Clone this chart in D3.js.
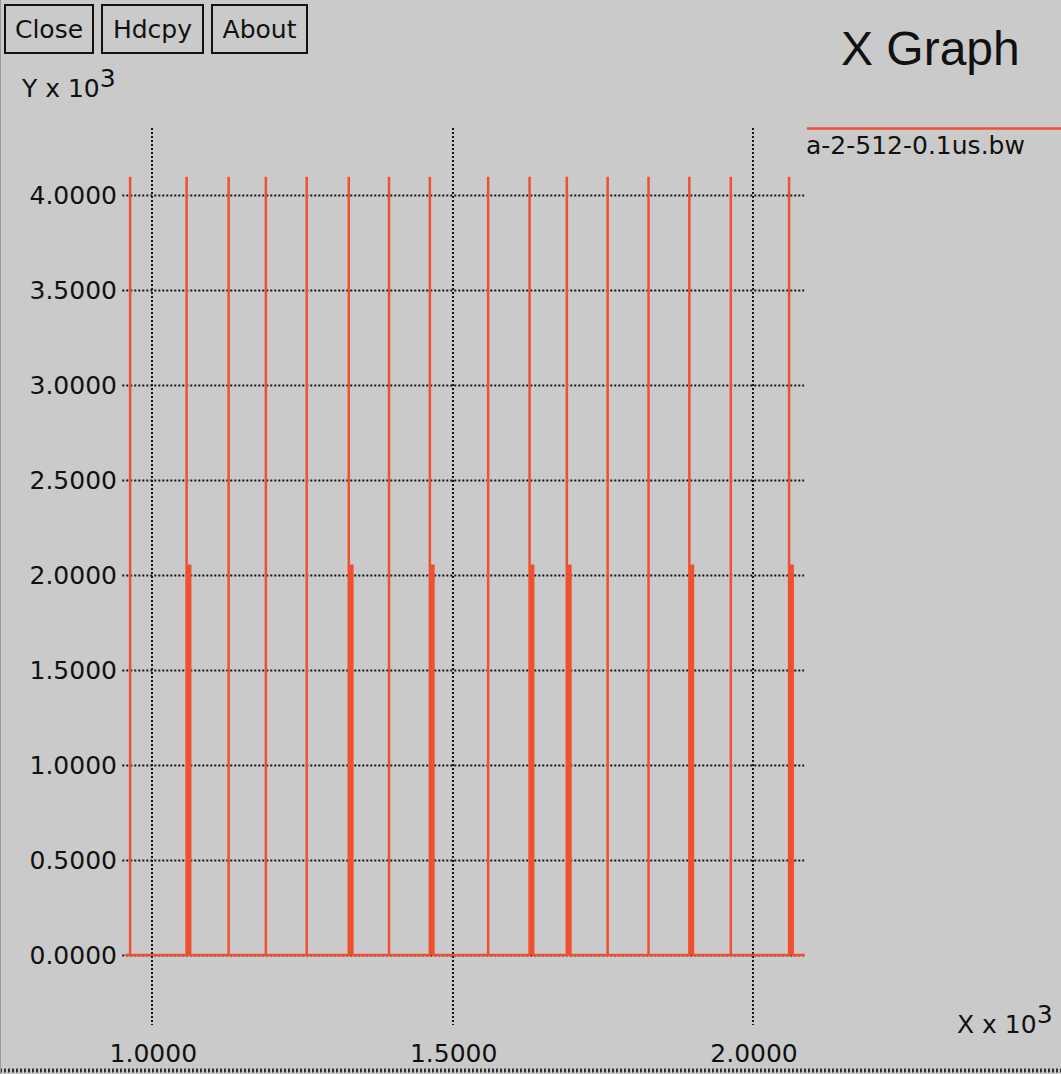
<!DOCTYPE html>
<html><head><meta charset="utf-8">
<script src="https://cdn.jsdelivr.net/npm/d3@7"></script>
<style>
html,body{margin:0;padding:0;background:#cacaca;}
svg{display:block;}
text{font-family:"DejaVu Sans",sans-serif;fill:#111;}
</style></head><body>
<svg id="chart" width="1061" height="1074"></svg>
<script>
// Pulse trace: every pulse rises to full level; some are followed by a short plateau at half level
const pulseTimes = [963, 1057, 1127, 1189, 1257, 1327, 1394, 1462, 1559, 1628, 1690, 1758, 1826, 1894, 1963, 2060];
const burstTimes = [1057, 1327, 1462, 1628, 1690, 1894, 2060];
const pulseLevel = 4096;
const burstLevel = 2048;
const burstLength = 6;
const traceStart = 955;
const traceEnd = 2086;
const xTicks = [1000, 1500, 2000];
const yTicks = [0, 500, 1000, 1500, 2000, 2500, 3000, 3500, 4000];
const seriesName = "a-2-512-0.1us.bw";
const buttonLabels = ["Close", "Hdcpy", "About"];

const red = "#f05030";
const svg = d3.select("#chart");

// Plot frame (data units) and pixel box
const xDomain = [950, 2085], yDomain = [-368, 4352];
const x = d3.scaleLinear().domain(xDomain).range([122.3, 804.1]);
const y = d3.scaleLinear().domain(yDomain).range([1025, 128]);

// Window buttons
const btnBoxes = [[5, 88], [102, 101], [212, 95]];
const btn = svg.append("g").selectAll("g").data(buttonLabels).join("g");
btn.append("rect")
  .attr("x", (d, i) => btnBoxes[i][0]).attr("y", 5)
  .attr("width", (d, i) => btnBoxes[i][1]).attr("height", 48)
  .attr("fill", "none").attr("stroke", "#111").attr("stroke-width", 2);
btn.append("text")
  .attr("x", (d, i) => btnBoxes[i][0] + btnBoxes[i][1] / 2).attr("y", 38)
  .attr("text-anchor", "middle").attr("font-size", 25).text(d => d);

// Title
svg.append("text").attr("x", 841).attr("y", 65)
  .style("font-family", "'Liberation Sans', Arial, sans-serif")
  .attr("font-size", 48).text("X Graph");

// Axis unit labels
const yUnit = svg.append("text").attr("x", 22).attr("y", 97).attr("font-size", 25);
yUnit.append("tspan").text("Y x 10");
yUnit.append("tspan").attr("dy", -10).text("3");
const xUnit = svg.append("text").attr("x", 957).attr("y", 1033).attr("font-size", 25);
xUnit.append("tspan").text("X x 10");
xUnit.append("tspan").attr("dy", -10).text("3");

// Dotted grid
const grid = svg.append("g").attr("stroke", "#151515").attr("stroke-width", 2)
  .attr("stroke-dasharray", "2,2");
grid.selectAll("line.h").data(yTicks).join("line").attr("class", "h")
  .attr("x1", x(xDomain[0])).attr("x2", x(xDomain[1]))
  .attr("y1", d => Math.round(y(d)) + 0.5).attr("y2", d => Math.round(y(d)) + 0.5);
grid.selectAll("line.v").data(xTicks).join("line").attr("class", "v")
  .attr("x1", d => Math.round(x(d))).attr("x2", d => Math.round(x(d)))
  .attr("y1", y(yDomain[1])).attr("y2", y(yDomain[0]));

// Tick labels
svg.append("g").selectAll("text").data(yTicks).join("text")
  .attr("x", 117).attr("y", d => y(d) + 9).attr("text-anchor", "end")
  .attr("font-size", 25).text(d => (d / 1000).toFixed(4));
svg.append("g").selectAll("text").data(xTicks).join("text")
  .attr("x", d => x(d) + 1).attr("y", 1062).attr("text-anchor", "middle")
  .attr("font-size", 25).text(d => (d / 1000).toFixed(4));

// Trace points
const pts = [[traceStart, 0]];
pulseTimes.forEach(t => {
  pts.push([t, 0], [t, pulseLevel]);
  if (burstTimes.includes(t)) {
    pts.push([t, burstLevel], [t + burstLength, burstLevel], [t + burstLength, 0]);
  } else {
    pts.push([t, 0]);
  }
});
pts.push([traceEnd, 0]);

// Half-level plateaus are solid blocks
const area = d3.area().x(d => x(d[0])).y0(y(0)).y1(d => y(d[1]));
svg.append("g").selectAll("path").data(burstTimes).join("path")
  .attr("fill", red)
  .attr("d", t => area([[t, burstLevel], [t + burstLength, burstLevel]]));

svg.append("path").datum(pts)
  .attr("fill", "none").attr("stroke", red).attr("stroke-width", 2.5)
  .attr("d", d3.line().x(d => x(d[0])).y(d => y(d[1])));

// Legend
svg.append("line").attr("x1", 807).attr("x2", 1061).attr("y1", 128.5).attr("y2", 128.5)
  .attr("stroke", red).attr("stroke-width", 2.5);
svg.append("text").attr("x", 806).attr("y", 154).attr("font-size", 25).text(seriesName);

// Window bottom edge
svg.append("line").attr("x1", 0).attr("x2", 1061).attr("y1", 1070.5).attr("y2", 1070.5)
  .attr("stroke", "#333").attr("stroke-width", 4).attr("stroke-dasharray", "2,2");
svg.append("line").attr("x1", 0.5).attr("x2", 0.5).attr("y1", 0).attr("y2", 1074)
  .attr("stroke", "#999").attr("stroke-width", 1);
</script>
</body></html>
